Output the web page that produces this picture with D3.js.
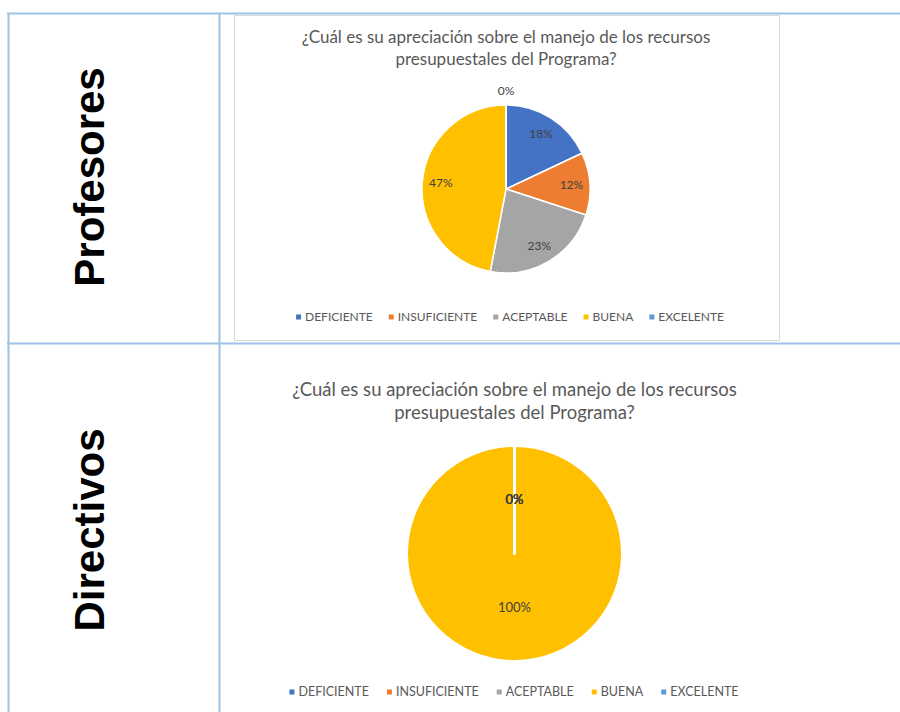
<!DOCTYPE html>
<html>
<head>
<meta charset="utf-8">
<script src="https://cdn.jsdelivr.net/npm/d3@7"></script>
<style>
  body { margin: 0; background: #fff; }
  svg { display: block; }
  .rowlabel { font-family: "Liberation Sans", Arial, sans-serif; font-weight: bold; fill: #000; }
  .title { font-family: Lato, "Open Sans", sans-serif; fill: #595959; text-anchor: middle; }
  .slice-label { font-family: Lato, "Open Sans", sans-serif; fill: #404040; text-anchor: middle; }
  .legend text { font-family: Lato, "Open Sans", sans-serif; fill: #595959; }
</style>
</head>
<body>
<div id="chart"></div>
<script>
// data
var categories = ["DEFICIENTE", "INSUFICIENTE", "ACEPTABLE", "BUENA", "EXCELENTE"];
var profesoresValues = [18, 12, 23, 47, 0];
var directivosValues = [0, 0, 0, 100, 0];
var rowLabels = ["Profesores", "Directivos"];
var titleLines = ["¿Cuál es su apreciación sobre el manejo de los recursos", "presupuestales del Programa?"];
var colors = ["#4472c4", "#ed7d31", "#a5a5a5", "#ffc000", "#5b9bd5"];

var width = 900, height = 712;
var lineColor = "#9dc3e6";

var svg = d3.select("#chart").append("svg")
    .attr("width", width)
    .attr("height", height);

// table grid
var grid = svg.append("g")
    .attr("stroke", lineColor)
    .attr("stroke-width", 2);
grid.append("line").attr("x1", 7).attr("x2", width).attr("y1", 13.5).attr("y2", 13.5);
grid.append("line").attr("x1", 7).attr("x2", width).attr("y1", 343.5).attr("y2", 343.5);
grid.append("line").attr("x1", 8.5).attr("x2", 8.5).attr("y1", 13).attr("y2", height);
grid.append("line").attr("x1", 219.5).attr("x2", 219.5).attr("y1", 13).attr("y2", height);

// row labels (rotated)
var rowCenters = [177, 530];
rowLabels.forEach(function(label, i) {
  svg.append("text")
      .attr("class", "rowlabel")
      .attr("transform", "translate(104," + rowCenters[i] + ") rotate(-90)")
      .attr("text-anchor", "middle")
      .style("font-size", "42px")
      .text(label);
});

// chart frame for the first chart
svg.append("rect")
    .attr("x", 234.5).attr("y", 15.5)
    .attr("width", 545).attr("height", 325)
    .attr("fill", "#fff")
    .attr("stroke", "#d9d9d9")
    .attr("stroke-width", 1);

function drawPie(opts) {
  var g = svg.append("g");

  // title
  titleLines.forEach(function(line, i) {
    g.append("text")
        .attr("class", "title")
        .attr("x", opts.cx)
        .attr("y", opts.titleY + i * opts.titleGap)
        .style("font-size", opts.titleSize + "px")
        .text(line);
  });

  var total = d3.sum(opts.values);
  var pie = d3.pie().sort(null).value(function(d) { return d; });
  var arcs = pie(opts.values);

  var arc = d3.arc().innerRadius(0).outerRadius(opts.r);
  var labelArc = d3.arc().innerRadius(opts.r * opts.labelR).outerRadius(opts.r * opts.labelR);
  var zeroArc = d3.arc().innerRadius(opts.r * opts.zeroR).outerRadius(opts.r * opts.zeroR);

  var pieG = g.append("g")
      .attr("transform", "translate(" + opts.cx + "," + opts.cy + ")");

  pieG.selectAll("path")
      .data(arcs)
      .enter().append("path")
      .attr("d", arc)
      .attr("fill", function(d, i) { return colors[i]; })
      .attr("stroke", "#fff")
      .attr("stroke-width", opts.strokeW)
      .attr("stroke-linejoin", "round");

  var fmt = d3.format(".0%");
  pieG.selectAll("text")
      .data(arcs)
      .enter().append("text")
      .attr("class", "slice-label")
      .attr("transform", function(d) {
        var c = (d.value === 0 ? zeroArc : labelArc).centroid(d);
        return "translate(" + c[0] + "," + c[1] + ")";
      })
      .attr("dy", "0.35em")
      .style("font-size", opts.labelSize + "px")
      .text(function(d) { return fmt(d.value / total); });

  // legend
  var legend = g.append("g").attr("class", "legend");
  var x = 0;
  categories.forEach(function(cat, i) {
    var item = legend.append("g").attr("transform", "translate(" + x + ",0)");
    item.append("rect")
        .attr("x", 0).attr("y", -opts.sq / 2)
        .attr("width", opts.sq).attr("height", opts.sq)
        .attr("fill", colors[i]);
    var t = item.append("text")
        .attr("x", opts.sq + 4)
        .attr("dy", "0.35em")
        .style("font-size", opts.legendSize + "px")
        .text(cat);
    x += opts.sq + 4 + t.node().getComputedTextLength() + opts.legendGap;
  });
  x -= opts.legendGap;
  legend.attr("transform", "translate(" + (opts.legendCx - x / 2) + "," + opts.legendY + ")");
}

drawPie({
  values: profesoresValues,
  cx: 506, cy: 189, r: 84,
  titleY: 43, titleGap: 22, titleSize: 17,
  labelR: 0.78, zeroR: 1.17, labelSize: 12,
  strokeW: 1.5,
  legendY: 317, legendCx: 510, legendSize: 12, legendGap: 16, sq: 5
});

drawPie({
  values: directivosValues,
  cx: 514.5, cy: 553.5, r: 108,
  titleY: 396, titleGap: 23, titleSize: 18.5,
  labelR: 0.5, zeroR: 0.5, labelSize: 13,
  strokeW: 3,
  legendY: 692, legendCx: 514, legendSize: 12.5, legendGap: 18, sq: 5
});
</script>
</body>
</html>
